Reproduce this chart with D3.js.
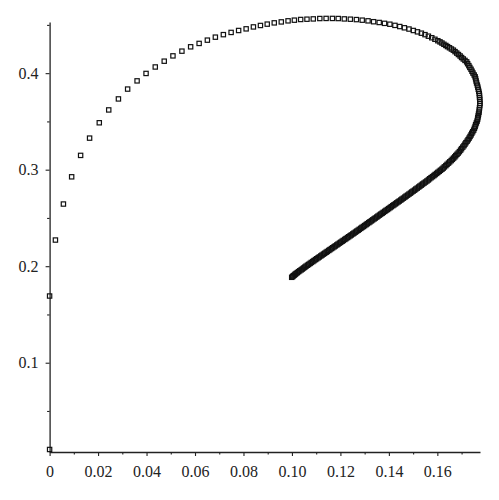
<!DOCTYPE html>
<html>
<head>
<meta charset="utf-8">
<script src="https://cdn.jsdelivr.net/npm/d3@7"></script>
<style>
  html, body { margin: 0; padding: 0; background: #fff; }
  svg { display: block; }
  .tick text { font-family: "Liberation Serif", "Times New Roman", serif; font-size: 16px; fill: #222; }
</style>
</head>
<body>
<svg id="chart" width="499" height="500"></svg>
<script>
// trajectory points (x, y) in data units
const xValues = [
  0, 0, 0.0024, 0.0057, 0.0091, 0.0128, 0.0165, 0.0205, 0.0244, 0.0284, 0.0322, 0.0361, 0.0398, 0.0436, 0.0473, 0.0509, 0.0546, 0.0582, 0.0617, 0.0651, 0.0684, 0.0717, 0.0749, 0.0780, 0.0811, 0.0841, 0.0870, 0.0898, 0.0927, 0.0956, 0.0984, 0.1010, 0.1036, 0.1062, 0.1088, 0.1115, 0.1141, 0.1167, 0.1191, 0.1216, 0.1241, 0.1266,
  0.1290, 0.1314, 0.1337, 0.1360, 0.1382, 0.1404, 0.1425, 0.1445, 0.1464, 0.1483, 0.1501, 0.1518, 0.1534, 0.1549, 0.1563, 0.1577, 0.1590, 0.1602, 0.1611,
  0.1619, 0.1627, 0.1635, 0.1642, 0.1650, 0.1658, 0.1666,
  0.1673, 0.1680, 0.1687, 0.1694, 0.1700, 0.1707, 0.1714, 0.1721,
  0.1725, 0.1730, 0.1734, 0.1739, 0.1743, 0.1747, 0.1752, 0.1756,
  0.1758, 0.1760, 0.1762, 0.1765, 0.1767, 0.1769, 0.1771, 0.1773,
  0.1774, 0.1774, 0.1775, 0.1775, 0.1776,
  0.1775, 0.1774, 0.1773, 0.1772,
  0.1770, 0.1769, 0.1767, 0.1766, 0.1764,
  0.1761, 0.1758, 0.1756, 0.1753, 0.1750,
  0.1746, 0.1742, 0.1739, 0.1735, 0.1731,
  0.1727, 0.1723, 0.1718, 0.1714, 0.1710,
  0.1705, 0.1700, 0.1696, 0.1691, 0.1686,
  0.1681, 0.1676, 0.1672, 0.1667, 0.1662, 0.1657,
  0.1651, 0.1646, 0.1640, 0.1635, 0.1629, 0.1624,
  0.1619, 0.1613, 0.1608, 0.1602, 0.1597, 0.1591, 0.1586,
  0.1580, 0.1574, 0.1568, 0.1563, 0.1557, 0.1551, 0.1545,
  0.1539, 0.1534, 0.1528, 0.1523, 0.1517, 0.1511, 0.1506, 0.1500,
  0.1494, 0.1489, 0.1483, 0.1477, 0.1471, 0.1466, 0.1460, 0.1454,
  0.1449, 0.1443, 0.1438, 0.1432, 0.1427, 0.1421, 0.1416, 0.1410, 0.1405,
  0.1399, 0.1394, 0.1388, 0.1383, 0.1377, 0.1372, 0.1366, 0.1361, 0.1355,
  0.1350, 0.1344, 0.1339, 0.1333, 0.1328, 0.1322, 0.1317, 0.1311, 0.1306,
  0.1300, 0.1295, 0.1289, 0.1284, 0.1278, 0.1273, 0.1267, 0.1262, 0.1256,
  0.1251, 0.1245, 0.1240, 0.1234, 0.1229, 0.1223, 0.1218, 0.1212, 0.1207,
  0.1201, 0.1196, 0.1190, 0.1185, 0.1179, 0.1174, 0.1168, 0.1163, 0.1157,
  0.1152, 0.1146, 0.1141, 0.1135, 0.1130, 0.1124, 0.1119, 0.1113, 0.1108,
  0.1102, 0.1097, 0.1091, 0.1086, 0.1080, 0.1075, 0.1069, 0.1064, 0.1058,
  0.1053, 0.1048, 0.1043, 0.1038, 0.1032, 0.1027, 0.1022, 0.1017,
  0.1013, 0.1010, 0.1006, 0.1003, 0.0999
];
const yValues = [
  0.0101, 0.1691, 0.2271, 0.2644, 0.2926, 0.3148, 0.3327, 0.3486, 0.3619, 0.3733, 0.3835, 0.3920, 0.3997, 0.4064, 0.4124, 0.4179, 0.4228, 0.4273, 0.4308, 0.4342, 0.4373, 0.4399, 0.4422, 0.4442, 0.4459, 0.4479, 0.4494, 0.4508, 0.4521, 0.4531, 0.4542, 0.4549, 0.4556, 0.4559, 0.4562, 0.4566, 0.4567, 0.4567, 0.4566, 0.4562, 0.4559, 0.4555,
  0.4549, 0.4542, 0.4533, 0.4525, 0.4516, 0.4507, 0.4495, 0.4483, 0.4470, 0.4457, 0.4442, 0.4428, 0.4414, 0.4399, 0.4383, 0.4367, 0.4351, 0.4336, 0.4324,
  0.4312, 0.4299, 0.4287, 0.4275, 0.4263, 0.4250, 0.4238,
  0.4223, 0.4208, 0.4193, 0.4178, 0.4162, 0.4147, 0.4132, 0.4117,
  0.4098, 0.4078, 0.4059, 0.4040, 0.4020, 0.4001, 0.3981, 0.3962,
  0.3941, 0.3919, 0.3898, 0.3876, 0.3855, 0.3833, 0.3812, 0.3790,
  0.3769, 0.3748, 0.3728, 0.3707, 0.3686,
  0.3664, 0.3641, 0.3619, 0.3596,
  0.3577, 0.3559, 0.3540, 0.3522, 0.3503,
  0.3484, 0.3466, 0.3447, 0.3429, 0.3410,
  0.3393, 0.3377, 0.3360, 0.3344, 0.3327,
  0.3311, 0.3296, 0.3280, 0.3265, 0.3249,
  0.3234, 0.3218, 0.3203, 0.3187, 0.3172,
  0.3159, 0.3146, 0.3133, 0.3120, 0.3107, 0.3094,
  0.3081, 0.3068, 0.3055, 0.3042, 0.3029, 0.3016,
  0.3005, 0.2994, 0.2983, 0.2972, 0.2961, 0.2950, 0.2939,
  0.2928, 0.2917, 0.2906, 0.2894, 0.2883, 0.2872, 0.2861,
  0.2851, 0.2840, 0.2830, 0.2820, 0.2809, 0.2799, 0.2788, 0.2778,
  0.2768, 0.2757, 0.2747, 0.2736, 0.2726, 0.2716, 0.2705, 0.2695,
  0.2685, 0.2675, 0.2666, 0.2656, 0.2646, 0.2636, 0.2627, 0.2617, 0.2607,
  0.2597, 0.2587, 0.2578, 0.2568, 0.2558, 0.2548, 0.2539, 0.2529, 0.2519,
  0.2509, 0.2499, 0.2490, 0.2480, 0.2470, 0.2460, 0.2451, 0.2441, 0.2431,
  0.2421, 0.2411, 0.2402, 0.2392, 0.2382, 0.2372, 0.2363, 0.2353, 0.2343,
  0.2334, 0.2324, 0.2315, 0.2305, 0.2296, 0.2286, 0.2277, 0.2267, 0.2258,
  0.2248, 0.2239, 0.2229, 0.2220, 0.2210, 0.2201, 0.2191, 0.2182, 0.2172,
  0.2163, 0.2153, 0.2144, 0.2134, 0.2125, 0.2115, 0.2106, 0.2096, 0.2087,
  0.2077, 0.2068, 0.2058, 0.2048, 0.2039, 0.2029, 0.2019, 0.2010, 0.2000,
  0.1990, 0.1981, 0.1971, 0.1962, 0.1952, 0.1943, 0.1933, 0.1924,
  0.1916, 0.1908, 0.1901, 0.1893, 0.1885
];

const xDomain = [0, 0.1776];
const yDomain = [0.0075, 0.453];
const xMajorTicks = [0, 0.02, 0.04, 0.06, 0.08, 0.10, 0.12, 0.14, 0.16];
const xMajorLabels = ["0", "0.02", "0.04", "0.06", "0.08", "0.10", "0.12", "0.14", "0.16"];
const xMinorTicks = [0.01, 0.03, 0.05, 0.07, 0.09, 0.11, 0.13, 0.15, 0.17];
const yMajorTicks = [0.1, 0.2, 0.3, 0.4];
const yMajorLabels = ["0.1", "0.2", "0.3", "0.4"];
const yMinorTicks = [0.05, 0.15, 0.25, 0.35, 0.45];

const svg = d3.select("#chart");
const x = d3.scaleLinear().domain(xDomain).range([49.6, 480]);
const y = d3.scaleLinear().domain(yDomain).range([452, 22]);

const axisColor = "#222";

// x axis
const gx = svg.append("g").attr("transform", "translate(0,452)");
gx.call(d3.axisBottom(x).tickValues(xMajorTicks)
  .tickFormat((d, i) => xMajorLabels[i]).tickSize(4).tickSizeOuter(0).tickPadding(10));
const gxm = svg.append("g").attr("transform", "translate(0,452)");
gxm.call(d3.axisBottom(x).tickValues(xMinorTicks).tickFormat("").tickSize(2.5).tickSizeOuter(0));
gxm.select(".domain").remove();

// y axis
const gy = svg.append("g").attr("transform", "translate(49.6,0)");
gy.call(d3.axisLeft(y).tickValues(yMajorTicks)
  .tickFormat((d, i) => yMajorLabels[i]).tickSize(4).tickSizeOuter(0).tickPadding(7));
const gym = svg.append("g").attr("transform", "translate(49.6,0)");
gym.call(d3.axisLeft(y).tickValues(yMinorTicks).tickFormat("").tickSize(2.5).tickSizeOuter(0));
gym.select(".domain").remove();

svg.selectAll(".domain").attr("stroke", axisColor).attr("stroke-width", 1.3);
svg.selectAll(".tick line").attr("stroke", axisColor).attr("stroke-width", 1.1);

// points: hollow squares
const pts = xValues.map((v, i) => ({ x: v, y: yValues[i] }));
const size = 4.3;
svg.append("g").selectAll("rect").data(pts).join("rect")
  .attr("x", d => x(d.x) - size / 2)
  .attr("y", d => y(d.y) - size / 2)
  .attr("width", size)
  .attr("height", size)
  .attr("fill", "none")
  .attr("stroke", "#111")
  .attr("stroke-width", 1.2);
</script>
</body>
</html>
